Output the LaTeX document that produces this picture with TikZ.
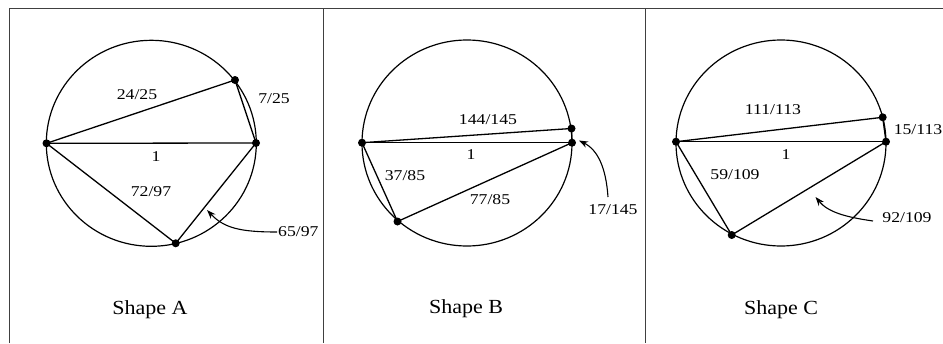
\documentclass[tikz,border=0pt]{standalone}
\usepackage{fontspec}
\setmainfont{Liberation Serif}
\newfontfamily\lblfont[FakeStretch=1.18]{Liberation Serif}
\newfontfamily\capfont[FakeStretch=1.1]{Liberation Serif}
\usetikzlibrary{arrows.meta}
\begin{document}
\begin{tikzpicture}[x=1pt,y=-1pt,
  frame/.style={draw=black!75,line width=0.9pt},
  ring/.style={draw=black,line width=1.2pt},
  chord/.style={draw=black,line width=1.3pt},
  dot/.style={circle,fill=black,inner sep=0pt,minimum size=8pt},
  lbl/.style={inner sep=1pt,font=\lblfont\fontsize{15}{17}\selectfont},
  captxt/.style={inner sep=1pt,font=\capfont\fontsize{20}{22}\selectfont},
  pointer/.style={draw=black,line width=1.1pt,-{Stealth[length=9pt,width=6.5pt]}}]
\useasboundingbox (0,0) rectangle (943,343);
% frame
\draw[frame] (9,343) -- (9,8) -- (943,8);
\draw[frame] (323,8) -- (323,343);
\draw[frame] (645,8) -- (645,343);

% ---------- Shape A ----------
\draw[ring] (151.3,143.3) ellipse [x radius=105, y radius=103];
\node[dot] (aL) at (46.5,143.3) {};
\node[dot] (aR) at (256,143) {};
\node[dot] (aT) at (235,80) {};
\node[dot] (aB) at (175.7,243.3) {};
\draw[chord] (aL.center) -- (aR.center);
\draw[chord] (aL.center) -- (aT.center) -- (aR.center);
\draw[chord] (aL.center) -- (aB.center) -- (aR.center);
\node[lbl] (a1) at (137,95) {24/25};
\node[lbl] (a2) at (274,99) {7/25};
\node[lbl] (a3) at (156,157) {1};
\node[lbl] (a4) at (151,192) {72/97};
\node[lbl,anchor=west] (a5) at (277,232) {65/97};
\coordinate (aTip) at (207,210);
\draw[pointer] (a5.west) .. controls (240,232) and (224,228) .. (aTip);
\node[captxt] (capA) at (150,310) {Shape A};

% ---------- Shape B ----------
\draw[ring] (467,143) ellipse [x radius=105, y radius=103];
\node[dot] (bL) at (362,142.7) {};
\node[dot] (bR) at (572,142.7) {};
\node[dot] (bT) at (571.5,128.5) {};
\node[dot] (bB) at (397.5,221.5) {};
\draw[chord] (bL.center) -- (bR.center);
\draw[chord] (bL.center) -- (bT.center) -- (bR.center);
\draw[chord] (bL.center) -- (bB.center) -- (bR.center);
\node[lbl] (b1) at (488,120) {144/145};
\node[lbl] (b2) at (471,155) {1};
\node[lbl] (b3) at (405,176) {37/85};
\node[lbl] (b4) at (490,200) {77/85};
\node[lbl] (b5) at (613,210) {17/145};
\coordinate (bS) at (608,197);
\coordinate (bTip) at (579,140.5);
\draw[pointer] (bS) .. controls (606,168) and (598,150) .. (bTip);
\node[captxt] (capB) at (466,309) {Shape B};

% ---------- Shape C ----------
\draw[ring] (781,143) ellipse [x radius=105, y radius=103];
\node[dot] (cL) at (676,141.7) {};
\node[dot] (cR) at (886,141.7) {};
\node[dot] (cT) at (882.7,117.3) {};
\node[dot] (cB) at (731.7,235) {};
\draw[chord] (cL.center) -- (cR.center);
\draw[chord] (cL.center) -- (cT.center) -- (cR.center);
\draw[chord] (cL.center) -- (cB.center) -- (cR.center);
\node[lbl] (c1) at (773,110) {111/113};
\node[lbl] (c2) at (918,130) {15/113};
\node[lbl] (c3) at (786,155) {1};
\node[lbl] (c4) at (735,175) {59/109};
\node[lbl] (c5) at (907,218) {92/109};
\coordinate (cS) at (873,221);
\coordinate (cTip) at (815.5,197);
\draw[pointer] (cS) .. controls (845,217) and (828,212) .. (cTip);
\node[captxt] (capC) at (781,310) {Shape C};
\end{tikzpicture}
\end{document}
